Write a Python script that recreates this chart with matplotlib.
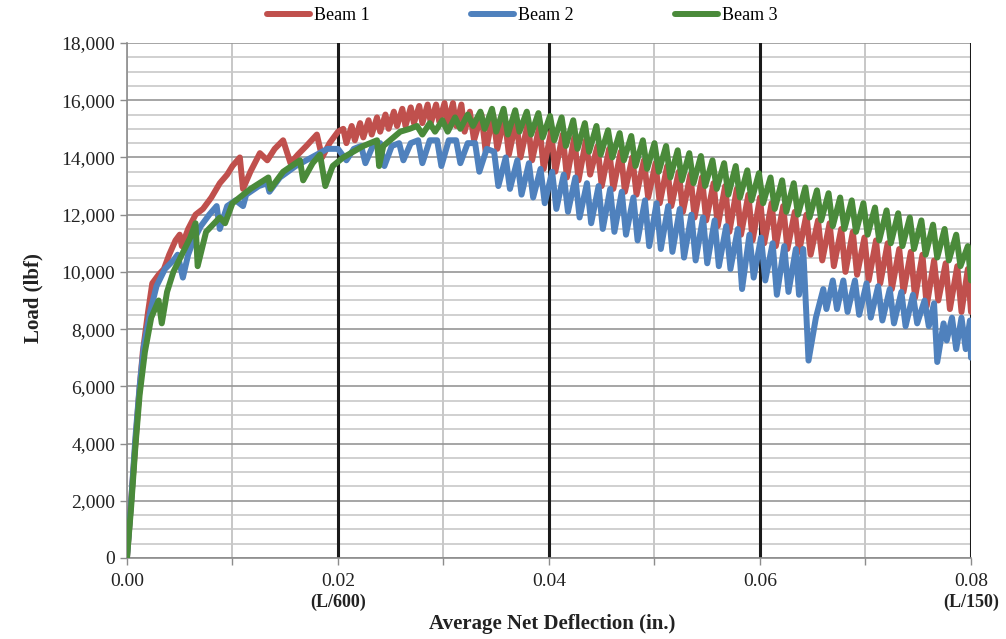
import matplotlib.pyplot as plt
from matplotlib.ticker import MultipleLocator, FuncFormatter

plt.rcParams['font.family'] = ['Liberation Serif', 'DejaVu Serif']

# -------- Load-deflection data: (deflection in., load lbf) --------
beam1 = [
    (0.0000, 0), (0.0003, 1500), (0.0007, 3500), (0.0011, 5500), (0.0015, 7200),
    (0.0020, 8600), (0.0024, 9600), (0.0030, 9900), (0.0035, 10100), (0.0040, 10600),
    (0.0046, 11100), (0.0050, 11300), (0.0052, 10900), (0.0058, 11500), (0.0065, 12000),
    (0.0072, 12200), (0.0080, 12600), (0.0088, 13100), (0.0095, 13400), (0.0100, 13700),
    (0.0107, 14000), (0.0110, 12900), (0.0117, 13500), (0.0126, 14150), (0.0133, 13900),
    (0.0140, 14300), (0.0148, 14600), (0.0155, 13800), (0.0162, 14100), (0.0170, 14400),
    (0.0180, 14800), (0.0185, 14000), (0.0192, 14500), (0.0200, 14900),
    (0.0205, 15000), (0.0208, 14500), (0.0213, 15100), (0.0216, 14600), (0.0221, 15200),
    (0.0224, 14700), (0.0229, 15300), (0.0232, 14800), (0.0237, 15400), (0.0240, 14900),
    (0.0245, 15500), (0.0248, 15000), (0.0253, 15600), (0.0256, 15100), (0.0261, 15700),
    (0.0264, 15100), (0.0269, 15750), (0.0272, 15200), (0.0277, 15800), (0.0280, 15200),
    (0.0285, 15850), (0.0288, 15200), (0.0293, 15850), (0.0296, 15250), (0.0301, 15900),
    (0.0304, 15200), (0.0309, 15900), (0.0312, 15100), (0.0317, 15850), (0.0320, 14900),
    (0.0325, 15600), (0.0329, 14600), (0.0336, 15500), (0.0340, 14200), (0.0347, 15500),
    (0.0351, 14300), (0.0358, 15400), (0.0362, 14100), (0.0369, 15300), (0.0373, 14000),
    (0.0380, 15200), (0.0384, 13900), (0.0391, 15100), (0.0395, 13600), (0.0402, 14900),
    (0.0406, 13500), (0.0413, 14800), (0.0417, 13300), (0.0424, 14700), (0.0428, 13200),
    (0.0435, 14600), (0.0439, 13400), (0.0446, 14400), (0.0450, 13000), (0.0457, 14300),
    (0.0461, 12900), (0.0468, 14200), (0.0472, 12800), (0.0479, 14000), (0.0483, 12700),
    (0.0490, 13900), (0.0494, 12600), (0.0501, 13800), (0.0505, 12400), (0.0512, 13700),
    (0.0516, 12300), (0.0523, 13500), (0.0527, 12100), (0.0534, 13400), (0.0538, 11900),
    (0.0545, 13300), (0.0549, 11800), (0.0556, 13100), (0.0560, 11600), (0.0567, 13000),
    (0.0571, 11400), (0.0578, 12900), (0.0582, 11300), (0.0589, 12700), (0.0593, 11100),
    (0.0600, 12600), (0.0604, 11000), (0.0611, 12400), (0.0615, 10900), (0.0622, 12300),
    (0.0626, 10800), (0.0633, 12100), (0.0637, 10700), (0.0644, 12000), (0.0648, 10600),
    (0.0655, 11800), (0.0659, 10400), (0.0666, 11700), (0.0670, 10200), (0.0677, 11500),
    (0.0681, 10000), (0.0688, 11400), (0.0692, 9900), (0.0699, 11200), (0.0703, 9700),
    (0.0710, 11100), (0.0714, 9600), (0.0721, 11000), (0.0725, 9400), (0.0732, 10800),
    (0.0736, 9300), (0.0743, 10700), (0.0747, 9100), (0.0754, 10600), (0.0758, 8800),
    (0.0765, 10400), (0.0769, 9000), (0.0776, 10300), (0.0780, 8700), (0.0787, 10200),
    (0.0791, 8600), (0.0797, 10100), (0.0800, 8600),
]

beam2 = [
    (0.0000, 0), (0.0004, 2000), (0.0008, 4200), (0.0012, 6000), (0.0016, 7400),
    (0.0022, 8600), (0.0028, 9500), (0.0036, 10100), (0.0044, 10400), (0.0048, 10600),
    (0.0053, 9800), (0.0058, 10600), (0.0063, 11100), (0.0070, 11600), (0.0078, 12000),
    (0.0085, 12300), (0.0088, 11500), (0.0095, 12300), (0.0103, 12500), (0.0110, 12300),
    (0.0113, 12700), (0.0125, 13000), (0.0133, 13100), (0.0135, 12800), (0.0145, 13300),
    (0.0160, 13700), (0.0170, 13900), (0.0180, 14100), (0.0190, 14300), (0.0200, 14300),
    (0.0208, 13900), (0.0215, 14300), (0.0222, 14400), (0.0226, 13800), (0.0233, 14400),
    (0.0240, 14500), (0.0244, 13700), (0.0251, 14400), (0.0258, 14500), (0.0262, 13900),
    (0.0269, 14500), (0.0276, 14600), (0.0280, 13800), (0.0287, 14600), (0.0294, 14600),
    (0.0298, 13700), (0.0305, 14600), (0.0312, 14600), (0.0316, 13800), (0.0323, 14500),
    (0.0330, 14500), (0.0334, 13500), (0.0341, 14300),
    (0.0348, 14200), (0.0352, 13000), (0.0359, 14000), (0.0363, 12900), (0.0370, 13900),
    (0.0374, 12700), (0.0381, 13800), (0.0385, 12600), (0.0392, 13600), (0.0396, 12400),
    (0.0403, 13500), (0.0407, 12200), (0.0414, 13400), (0.0418, 12100), (0.0425, 13300),
    (0.0429, 11900), (0.0436, 13100), (0.0440, 11700), (0.0447, 13000), (0.0451, 11500),
    (0.0458, 12900), (0.0462, 11400), (0.0469, 12800), (0.0473, 11300), (0.0480, 12600),
    (0.0484, 11100), (0.0491, 12500), (0.0495, 10900), (0.0502, 12400), (0.0506, 10800),
    (0.0513, 12300), (0.0517, 10700), (0.0524, 12200), (0.0528, 10500), (0.0535, 12000),
    (0.0539, 10400), (0.0546, 11900), (0.0550, 10300), (0.0557, 11800), (0.0561, 10200),
    (0.0568, 11600), (0.0572, 10100), (0.0579, 11500), (0.0583, 9400), (0.0590, 11300),
    (0.0594, 9800), (0.0601, 11200), (0.0605, 9700),
    (0.0612, 11000), (0.0616, 9200), (0.0623, 10900), (0.0627, 9300), (0.0634, 10800),
    (0.0637, 9200), (0.0641, 10800), (0.0646, 6900), (0.0653, 8400), (0.0660, 9400),
    (0.0663, 8700), (0.0669, 9700), (0.0673, 8700), (0.0679, 9700), (0.0683, 8600),
    (0.0690, 9700), (0.0694, 8500), (0.0701, 9600), (0.0705, 8400), (0.0712, 9500),
    (0.0716, 8300), (0.0723, 9400), (0.0727, 8200), (0.0734, 9300), (0.0738, 8100),
    (0.0745, 9200), (0.0749, 8200), (0.0756, 9000), (0.0760, 8100), (0.0765, 8900),
    (0.0768, 6850), (0.0774, 8200), (0.0777, 7600), (0.0782, 8400), (0.0786, 7300),
    (0.0791, 8400), (0.0795, 7300), (0.0799, 8300), (0.0800, 7000),
]

beam3 = [
    (0.0000, 0), (0.0004, 1800), (0.0008, 3900), (0.0012, 5700), (0.0017, 7200),
    (0.0023, 8400), (0.0030, 9000), (0.0033, 8200), (0.0038, 9300), (0.0044, 10000),
    (0.0052, 10600), (0.0060, 11200), (0.0065, 11700), (0.0067, 10200), (0.0075, 11400),
    (0.0088, 11900), (0.0093, 11700), (0.0100, 12400), (0.0117, 12900), (0.0134, 13300),
    (0.0136, 12900), (0.0148, 13500), (0.0164, 13900), (0.0167, 13200), (0.0176, 13800),
    (0.0183, 14100), (0.0188, 13000), (0.0195, 13700), (0.0205, 14000), (0.0224, 14400),
    (0.0237, 14600), (0.0239, 13700), (0.0243, 14400), (0.0259, 14900), (0.0268, 15000),
    (0.0275, 15100), (0.0280, 14800), (0.0287, 15200), (0.0292, 14900), (0.0299, 15300),
    (0.0304, 14900), (0.0311, 15400), (0.0316, 15000), (0.0323, 15500), (0.0328, 15100),
    (0.0335, 15600), (0.0339, 15000),
    (0.0346, 15700), (0.0350, 14900), (0.0357, 15700), (0.0361, 14800), (0.0368, 15650),
    (0.0372, 14900), (0.0379, 15600), (0.0383, 14800), (0.0390, 15550), (0.0394, 14700),
    (0.0401, 15450), (0.0405, 14600), (0.0412, 15400), (0.0416, 14400), (0.0423, 15300),
    (0.0427, 14300), (0.0434, 15200), (0.0438, 14200), (0.0445, 15100), (0.0449, 14100),
    (0.0456, 14950), (0.0460, 14000), (0.0467, 14850), (0.0471, 13900), (0.0478, 14750),
    (0.0482, 13700), (0.0489, 14600), (0.0493, 13600), (0.0500, 14500), (0.0504, 13500),
    (0.0511, 14400), (0.0515, 13300), (0.0522, 14250), (0.0526, 13200), (0.0533, 14150),
    (0.0537, 13100), (0.0544, 14050), (0.0548, 13000), (0.0555, 13900), (0.0559, 12900),
    (0.0566, 13800), (0.0570, 12700), (0.0577, 13700), (0.0581, 12600), (0.0588, 13550),
    (0.0592, 12500), (0.0599, 13450), (0.0603, 12400), (0.0610, 13300), (0.0614, 12200),
    (0.0621, 13200), (0.0625, 12100), (0.0632, 13100), (0.0636, 12000), (0.0643, 12950),
    (0.0647, 11900), (0.0654, 12850), (0.0658, 11800), (0.0665, 12750), (0.0669, 11600),
    (0.0676, 12600), (0.0680, 11500), (0.0687, 12500), (0.0691, 11400), (0.0698, 12400),
    (0.0702, 11300), (0.0709, 12250), (0.0713, 11100), (0.0720, 12150), (0.0724, 11000),
    (0.0731, 12050), (0.0735, 10900), (0.0742, 11900), (0.0746, 10800), (0.0753, 11800),
    (0.0757, 10600), (0.0764, 11650), (0.0768, 10500), (0.0775, 11500), (0.0779, 10400),
    (0.0786, 11300), (0.0790, 10200), (0.0797, 10900), (0.0800, 9700),
]

series = [beam1, beam2, beam3]
series_names = ["Beam 1", "Beam 2", "Beam 3"]
series_colors = ["#C0504D", "#4F81BD", "#4A8A3A"]

x_ticks = [0.00, 0.01, 0.02, 0.03, 0.04, 0.05, 0.06, 0.07, 0.08]
x_tick_labels = ["0.00", "", "0.02", "", "0.04", "", "0.06", "", "0.08"]
limit_ticks = [0.02, 0.04, 0.06, 0.08]
span_labels = {0.02: "(L/600)", 0.08: "(L/150)"}


# ======================================================
# Figure
# ======================================================
fig = plt.figure(figsize=(10.06, 6.39), dpi=100)
ax = fig.add_axes([0.1262, 0.1268, 0.8390, 0.8059])

for pts, name, color in zip(series, series_names, series_colors):
    xs, ys = zip(*pts)
    ax.plot(xs, ys, color=color, lw=4.3, label=name,
            solid_joinstyle="round", solid_capstyle="round", zorder=3)

ax.set_xlim(0, 0.08)
ax.set_ylim(0, 18000)

# ---- grid ----
ax.yaxis.set_major_locator(MultipleLocator(2000))
ax.yaxis.set_minor_locator(MultipleLocator(500))
ax.grid(axis="y", which="minor", color="#C8C8C8", lw=1.2, zorder=0)
ax.grid(axis="y", which="major", color="#969696", lw=1.2, zorder=0)

ax.set_xticks(x_ticks)
ax.set_xticklabels(x_tick_labels)
ax.grid(axis="x", which="major", color="#BDBDBD", lw=1.2, zorder=0)
for xv in limit_ticks:
    ax.axvline(xv, color="#1A1A1A", lw=2.2, zorder=1)
ax.set_axisbelow(True)

ax.yaxis.set_major_formatter(FuncFormatter(lambda v, p: f"{v:,.0f}"))
ax.tick_params(axis="both", which="major", labelsize=14, colors="#8C8C8C",
               labelcolor="#222222", length=5, width=1)
ax.tick_params(axis="y", which="minor", length=0)
ax.tick_params(axis="x", pad=6)

for side in ["top", "right"]:
    ax.spines[side].set_visible(False)
for side in ["left", "bottom"]:
    ax.spines[side].set_color("#8C8C8C")
    ax.spines[side].set_linewidth(1.2)

# ---- deflection limit labels ----
for xv, lab in span_labels.items():
    ax.text(xv, -0.086, lab, transform=ax.get_xaxis_transform(),
            ha="center", va="center", fontsize=13, fontweight="bold", color="#222222")

# ---- axis titles ----
fig.text(0.549, 1 - 624 / 639, "Average Net Deflection (in.)", ha="center", va="center",
         fontsize=15, fontweight="bold", color="#222222")
fig.text(33 / 1006, 1 - 298 / 639, "Load (lbf)", ha="center", va="center",
         rotation=90, fontsize=15, fontweight="bold", color="#222222")

# ---- legend ----
fig.legend(loc="center", bbox_to_anchor=(0.519, 1 - 16 / 639), ncol=3, frameon=False,
           fontsize=13, handlelength=2.4, handletextpad=0.2, columnspacing=5.6)

plt.savefig("out.png", dpi=100)
